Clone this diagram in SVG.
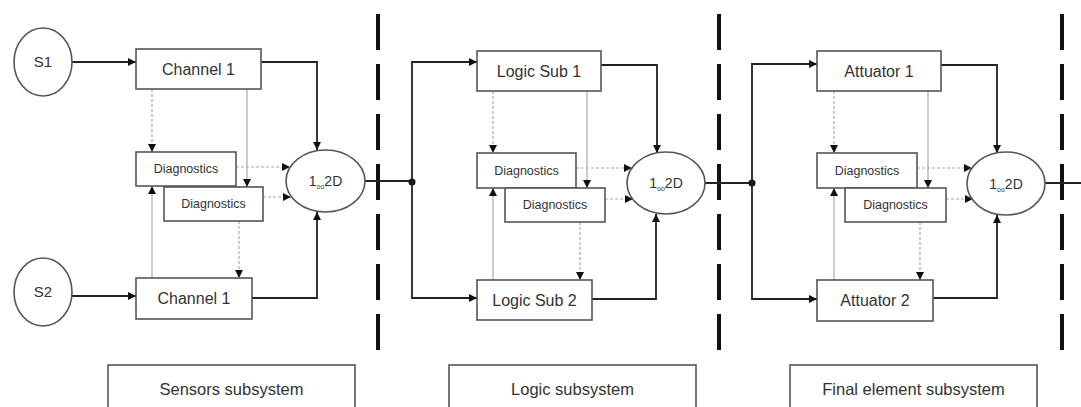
<svg xmlns="http://www.w3.org/2000/svg" width="1081" height="407" viewBox="0 0 1081 407">
<style>
.box{fill:#fff;stroke:#555;stroke-width:1.6}
.lbl{font-family:"Liberation Sans",Arial,sans-serif;font-size:16px;fill:#333;text-anchor:middle}
.blbl{font-family:"Liberation Sans",Arial,sans-serif;font-size:16.5px;fill:#333;text-anchor:middle}
.dlbl{font-family:"Liberation Sans",Arial,sans-serif;font-size:12.5px;fill:#333;text-anchor:middle}
.vlbl{font-family:"Liberation Sans",Arial,sans-serif;font-size:14px;fill:#333;text-anchor:middle}
.slbl{font-family:"Liberation Sans",Arial,sans-serif;font-size:15px;fill:#333;text-anchor:middle}
.sub{font-size:7px}
.main{fill:none;stroke:#222;stroke-width:1.8;marker-end:url(#ah)}
.plain{fill:none;stroke:#222;stroke-width:1.8}
.gray{fill:none;stroke:#aaa;stroke-width:1.2;marker-end:url(#ah)}
.dot{fill:none;stroke:#aaa;stroke-width:1.2;stroke-dasharray:3 2;marker-end:url(#ah)}
.div{stroke:#111;stroke-width:4;stroke-dasharray:36 14}
.ell{fill:#fff;stroke:#555;stroke-width:1.6}
</style>
<defs>
<marker id="ah" viewBox="0 0 10 10" refX="10" refY="5" markerWidth="8" markerHeight="8" markerUnits="userSpaceOnUse" orient="auto">
<path d="M0,0 L10,5 L0,10 z" fill="#111"/>
</marker>
</defs>
<rect width="1081" height="407" fill="#fff"/>

<g id="dividers">
<line class="div" x1="378" y1="14" x2="378" y2="352"/>
<line class="div" x1="719" y1="14" x2="719" y2="352"/>
<line class="div" x1="1062" y1="14" x2="1062" y2="352"/>
</g>

<g id="connectors">
<line class="main" x1="72" y1="62" x2="136" y2="62"/>
<line class="main" x1="72" y1="296" x2="136" y2="296"/>
<path class="main" d="M261,62 H317 V150"/>
<path class="main" d="M252,298 H317 V212"/>
<path class="dot" d="M152,89 V152"/>
<path class="gray" d="M247,89 V187"/>
<path class="gray" d="M152,278 V186"/>
<path class="dot" d="M239,221 V278"/>
<path class="dot" d="M236,167 H290"/>
<path class="dot" d="M263,197 H291"/>
<path class="plain" d="M365,181 H412"/>
<circle cx="412" cy="182" r="3.5" fill="#111"/>
<path class="main" d="M412,182 V62 H477"/>
<path class="main" d="M412,182 V298 H477"/>
<path class="main" d="M601,65 H657 V153"/>
<path class="main" d="M592,299 H656 V214"/>
<path class="dot" d="M493,91 V153"/>
<path class="gray" d="M587,91 V188"/>
<path class="gray" d="M493,280 V188"/>
<path class="dot" d="M580,222 V280"/>
<path class="dot" d="M576,168 H632"/>
<path class="dot" d="M605,199 H633"/>
<path class="plain" d="M705,183 H752"/>
<circle cx="752" cy="183" r="3.5" fill="#111"/>
<path class="main" d="M752,183 V64 H817"/>
<path class="main" d="M752,183 V299 H817"/>
<path class="main" d="M941,65 H997 V153"/>
<path class="main" d="M933,298 H997 V215"/>
<path class="dot" d="M834,91 V153"/>
<path class="gray" d="M928,91 V188"/>
<path class="gray" d="M834,280 V188"/>
<path class="dot" d="M920,222 V280"/>
<path class="dot" d="M917,168 H972"/>
<path class="dot" d="M946,199 H973"/>
<path class="plain" d="M1045,183 H1081"/>
</g>

<g id="s1"><ellipse class="ell" cx="43" cy="62" rx="29" ry="34"/><text class="slbl" x="43" y="67">S1</text></g>
<g id="s2"><ellipse class="ell" cx="43" cy="292" rx="29" ry="34"/><text class="slbl" x="43" y="297">S2</text></g>

<g id="channel1a"><rect class="box" x="136" y="49" width="125" height="40"/><text class="lbl" x="198.5" y="75">Channel 1</text></g>
<g id="channel1b"><rect class="box" x="136" y="278" width="116" height="41"/><text class="lbl" x="194" y="304">Channel 1</text></g>
<g id="diag1a"><rect class="box" x="136" y="152" width="100" height="34"/><text class="dlbl" x="186" y="173">Diagnostics</text></g>
<g id="diag1b"><rect class="box" x="164" y="187" width="99" height="34"/><text class="dlbl" x="213.5" y="208">Diagnostics</text></g>
<g id="vote1"><ellipse class="ell" cx="325.5" cy="181" rx="39.5" ry="31"/><text class="vlbl" x="325.5" y="186">1<tspan class="sub" dy="3">oo</tspan><tspan dy="-3">2D</tspan></text></g>

<g id="logic1"><rect class="box" x="477" y="51" width="124" height="40"/><text class="lbl" x="539" y="77">Logic Sub 1</text></g>
<g id="logic2"><rect class="box" x="477" y="280" width="115" height="40"/><text class="lbl" x="534.5" y="306">Logic Sub 2</text></g>
<g id="diag2a"><rect class="box" x="477" y="153" width="99" height="35"/><text class="dlbl" x="526.5" y="174.5">Diagnostics</text></g>
<g id="diag2b"><rect class="box" x="505" y="188" width="100" height="34"/><text class="dlbl" x="555" y="209">Diagnostics</text></g>
<g id="vote2"><ellipse class="ell" cx="666" cy="183" rx="39" ry="31"/><text class="vlbl" x="666" y="188">1<tspan class="sub" dy="3">oo</tspan><tspan dy="-3">2D</tspan></text></g>

<g id="att1"><rect class="box" x="817" y="51" width="124" height="40"/><text class="lbl" x="879" y="77">Attuator 1</text></g>
<g id="att2"><rect class="box" x="817" y="280" width="116" height="41"/><text class="lbl" x="875" y="306">Attuator 2</text></g>
<g id="diag3a"><rect class="box" x="817" y="153" width="100" height="35"/><text class="dlbl" x="867" y="174.5">Diagnostics</text></g>
<g id="diag3b"><rect class="box" x="845" y="188" width="101" height="34"/><text class="dlbl" x="895.5" y="209">Diagnostics</text></g>
<g id="vote3"><ellipse class="ell" cx="1006" cy="183.5" rx="39" ry="31.5"/><text class="vlbl" x="1006" y="188.5">1<tspan class="sub" dy="3">oo</tspan><tspan dy="-3">2D</tspan></text></g>

<g id="label-sensors"><rect class="box" x="108" y="365" width="247" height="60"/><text class="blbl" x="231.5" y="395">Sensors subsystem</text></g>
<g id="label-logic"><rect class="box" x="449" y="365" width="247" height="60"/><text class="blbl" x="572.5" y="395">Logic subsystem</text></g>
<g id="label-final"><rect class="box" x="790" y="365" width="247" height="60"/><text class="blbl" x="913.5" y="395">Final element subsystem</text></g>
</svg>
